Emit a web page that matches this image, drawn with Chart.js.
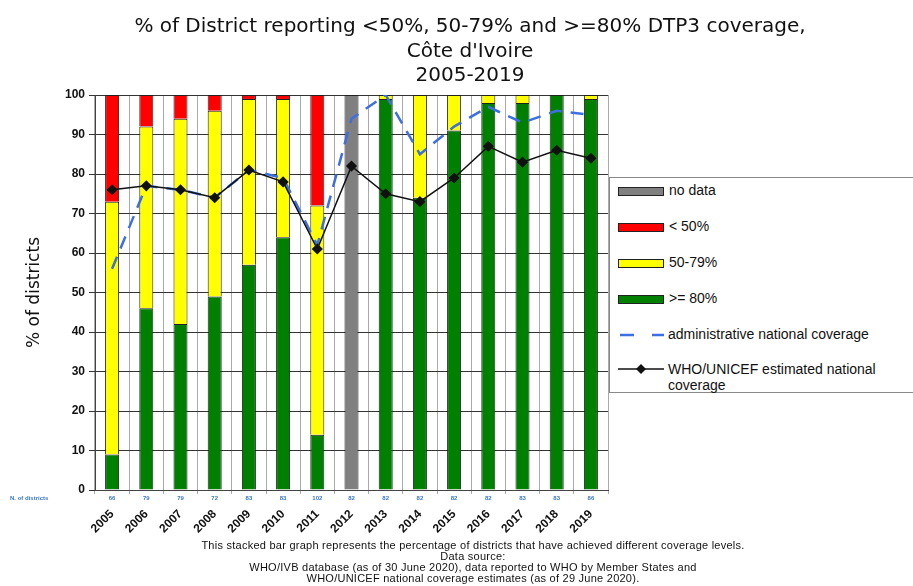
<!DOCTYPE html>
<html><head><meta charset="utf-8">
<script src="https://cdn.jsdelivr.net/npm/chart.js@4/dist/chart.umd.min.js"></script>
<style>
body{margin:0;background:#fff;width:913px;height:586px;overflow:hidden;position:relative;font-family:"Liberation Sans",Arial,sans-serif}
#c{position:absolute;left:0;top:0}
.title{position:absolute;left:0;width:940px;text-align:center;font-family:"DejaVu Sans",sans-serif;font-size:20px;color:#111;line-height:24px}
.foot{position:absolute;left:0;width:946px;text-align:center;font-family:"Liberation Sans",sans-serif;font-size:11px;letter-spacing:0.25px;color:#111;line-height:11px}
#legend{position:absolute;left:609px;top:177px;width:310px;height:216px;border:1px solid #888;box-sizing:border-box;background:#fff}
.li{position:absolute;left:8px;font-size:14px;color:#111;display:flex;align-items:flex-start}
.sw{display:inline-block;width:44px;height:7px;border:1px solid #222;margin-right:5px;margin-top:5px}
</style></head><body>
<canvas id="c" width="913" height="586"></canvas>
<div class="title" style="top:13px">% of District reporting &lt;50%, 50-79% and &gt;=80% DTP3 coverage,</div>
<div class="title" style="top:38px">Côte d'Ivoire</div>
<div class="title" style="top:62px">2005-2019</div>
<div id="legend">
 <div class="li" style="top:4px"><span class="sw" style="background:#808080"></span>no data</div>
 <div class="li" style="top:40px"><span class="sw" style="background:#ff0000"></span>&lt; 50%</div>
 <div class="li" style="top:76px"><span class="sw" style="background:#ffff00"></span>50-79%</div>
 <div class="li" style="top:112px"><span class="sw" style="background:#008000"></span>&gt;= 80%</div>
 <div class="li" style="top:148px"><svg width="46" height="12" style="margin-right:4px;margin-top:3px"><line x1="2" y1="6" x2="46" y2="6" stroke="#3d6fe0" stroke-width="2.5" stroke-dasharray="14,18"/></svg>administrative national coverage</div>
 <div class="li" style="top:183px;line-height:16px"><svg width="46" height="12" style="margin-right:4px;margin-top:2px"><line x1="0" y1="6" x2="46" y2="6" stroke="#111" stroke-width="1.5"/><polygon points="23,1 28,6 23,11 18,6" fill="#111"/></svg><span>WHO/UNICEF estimated national<br>coverage</span></div>
</div>
<div class="foot" style="top:540px">This stacked bar graph represents the percentage of districts that have achieved different coverage levels.</div>
<div class="foot" style="top:551px">Data source:</div>
<div class="foot" style="top:562px">WHO/IVB database (as of 30 June 2020), data reported to WHO by Member States and</div>
<div class="foot" style="top:573px">WHO/UNICEF national coverage estimates (as of 29 June 2020).</div>
<script>
const years = ["2005","2006","2007","2008","2009","2010","2011","2012","2013","2014","2015","2016","2017","2018","2019"];
const nDistricts = ["66","79","79","72","83","83","102","82","82","82","82","82","83","83","86"];
const pctAbove80 = [9,46,42,49,57,64,14,null,99,74,91,98,98,100,99];
const pct50to79 = [64,46,52,47,42,35,58,null,1,26,9,2,2,0,1];
const pctBelow50 = [27,8,6,4,1,1,28,null,0,0,0,0,0,0,0];
const noData = [null,null,null,null,null,null,null,100,null,null,null,null,null,null,null];
const adminCoverage = [56,77,76,74,81,79,62,94,100,85,92,97,93,96,95];
const whoUnicefCoverage = [76,77,76,74,81,78,61,82,75,73,79,87,83,86,84];

const nRow = {
  id:'nRow',
  afterDraw(chart){
    const ctx=chart.ctx, x=chart.scales.x;
    ctx.save();
    ctx.fillStyle='#3a78c0';
    ctx.font='bold 6px "Liberation Sans",Arial,sans-serif';
    ctx.textAlign='center';ctx.textBaseline='middle';
    nDistricts.forEach((n,i)=>ctx.fillText(n,x.getPixelForValue(i),498));
    ctx.textAlign='left';
    ctx.fillText('N. of districts',10,498);
    ctx.restore();
  }
};
const bar=(label,data,color)=>({type:'bar',label,data,backgroundColor:color,borderColor:'#222',borderWidth:1,order:3,stack:'s',categoryPercentage:1,barPercentage:0.41});
new Chart(document.getElementById('c'),{
  data:{labels:years,datasets:[
    {type:'line',label:'WHO/UNICEF estimated national coverage',data:whoUnicefCoverage,stack:'who',borderColor:'#111',borderWidth:1.5,pointStyle:'rectRot',pointRadius:4.5,pointBackgroundColor:'#111',pointBorderColor:'#111',order:1,tension:0},
    {type:'line',label:'administrative national coverage',data:adminCoverage,stack:'admin',borderColor:'#3d6fe0',borderWidth:2.5,borderDash:[13,9],pointRadius:0,order:2,tension:0},
    bar('>= 80%',pctAbove80,'#008000'),
    bar('50-79%',pct50to79,'#ffff00'),
    bar('< 50%',pctBelow50,'#ff0000'),
    bar('no data',noData,'#808080')
  ]},
  options:{responsive:false,animation:false,
    layout:{padding:{left:20,right:305,top:95,bottom:0}},
    plugins:{legend:{display:false},tooltip:{enabled:false}},
    scales:{
      x:{stacked:true,offset:true,
        grid:{display:true,offset:true,color:'#aaa',lineWidth:1,drawTicks:true,tickLength:4},
        border:{color:'#444'},
        ticks:{color:'#111',font:{family:'"Liberation Sans",Arial,sans-serif',size:12,weight:'bold'},minRotation:45,maxRotation:45,padding:13},
        afterFit(s){s.height=96;}
      },
      y:{stacked:true,min:0,max:100,
        grid:{color:'#333',lineWidth:1,tickLength:6},
        border:{color:'#444'},
        ticks:{stepSize:10,color:'#111',font:{family:'"Liberation Sans",Arial,sans-serif',size:12,weight:'bold'},padding:4},
        title:{display:true,text:'% of districts',color:'#111',font:{family:'"DejaVu Sans",sans-serif',size:17},padding:{bottom:0}},
        afterFit(s){s.width=75;}
      }
    }
  },
  plugins:[nRow]
});
</script>
</body></html>
